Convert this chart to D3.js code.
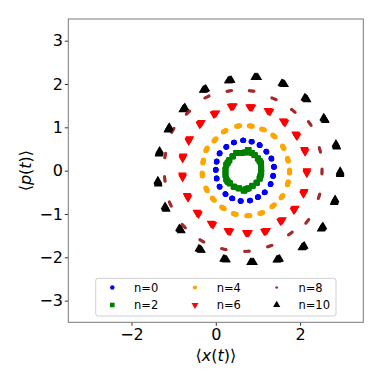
<!DOCTYPE html>
<html>
<head>
<meta charset="utf-8">
<script src="https://cdn.jsdelivr.net/npm/d3@7"></script>
<style>
  body { margin: 0; background: #fff; }
  svg text { font-family: "DejaVu Sans", sans-serif; fill: #000; }
</style>
</head>
<body>
<div id="area"></div>
<script>
// values, as [<x(t)>, <p(t)>]
let n0 = [[0.65,0.70],[0.85,0.67],[1.04,0.59],[1.20,0.44],[1.32,0.28],[1.38,0.09],[1.36,-0.12],
  [1.30,-0.31],[1.16,-0.50],[1.00,-0.61],[0.81,-0.69],[0.59,-0.70],[0.39,-0.64],[0.23,-0.54],
  [0.09,-0.37],[0.02,-0.18],[0.00,0.02],[0.02,0.21],[0.09,0.40],[0.25,0.55],[0.43,0.65]]
let n2 = [[0.77,0.48],[0.61,0.41],[0.49,0.41],[0.40,0.33],[0.32,0.24],[0.25,0.13],[0.23,0.02],
  [0.23,-0.10],[0.25,-0.20],[0.33,-0.29],[0.43,-0.37],[0.55,-0.41],[0.67,-0.46],[0.77,-0.41],
  [0.87,-0.35],[0.97,-0.28],[1.04,-0.18],[1.08,-0.06],[1.08,0.05],[1.07,0.17],[1.00,0.28],
  [0.92,0.36],[0.85,0.41],[0.70,0.42],[0.28,0.18],[0.28,-0.25],[0.72,-0.43],[1.06,-0.12],[1.04,0.22]]
let n4 = [[0.53,1.03],[0.83,1.03],[1.12,0.95],[1.38,0.80],[1.60,0.54],[1.71,0.25],[1.75,-0.02],
  [1.71,-0.29],[1.57,-0.60],[1.36,-0.81],[1.08,-0.98],[0.77,-1.04],[0.45,-1.00],[0.17,-0.86],
  [-0.06,-0.66],[-0.22,-0.43],[-0.32,-0.09],[-0.30,0.21],[-0.22,0.49],[-0.02,0.71],[0.21,0.91]]
let n6 = [[0.39,1.49],[0.83,1.47],[1.26,1.38],[1.62,1.13],[1.91,0.82],[2.11,0.46],[2.16,-0.03],
  [2.09,-0.51],[1.87,-0.89],[1.56,-1.15],[1.18,-1.39],[0.75,-1.43],[0.31,-1.39],[-0.09,-1.23],
  [-0.43,-0.98],[-0.67,-0.60],[-0.79,-0.13],[-0.78,0.31],[-0.63,0.71],[-0.36,1.09],[-0.02,1.32]]
let n8 = [[0.32,1.84],[0.85,1.84],[1.38,1.66],[1.84,1.38],[2.23,1.09],[2.47,0.48],[2.52,-0.02],
  [2.45,-0.59],[2.17,-1.17],[1.77,-1.45],[1.28,-1.74],[0.74,-1.86],[0.19,-1.81],[-0.33,-1.62],
  [-0.76,-1.28],[-1.08,-0.77],[-1.21,-0.19],[-1.20,0.35],[-1.02,0.93],[-0.66,1.34],[-0.21,1.70]]
let n10 = [[0.33,2.08],[0.96,2.15],[1.60,2.00],[2.14,1.66],[2.58,1.19],[2.86,0.58],[2.95,-0.05],
  [2.82,-0.70],[2.52,-1.32],[2.07,-1.76],[1.48,-2.05],[0.86,-2.12],[0.22,-2.05],[-0.37,-1.82],
  [-0.84,-1.36],[-1.19,-0.86],[-1.37,-0.27],[-1.34,0.42],[-1.12,0.97],[-0.76,1.43],[-0.27,1.87]]

let labels = ['n=0', 'n=2', 'n=4', 'n=6', 'n=8', 'n=10']
let colors = ['#0000ff', '#008000', '#ffa500', '#ff0000', '#a52a2a', '#000000']
let xTicks = [-2, 0, 2]
let yTicks = [-3, -2, -1, 0, 1, 2, 3]

let width = 382
let height = 382
let margin = {left: 68.3, right: 18.7, top: 19, bottom: 59.7}

let series = [
  {data: n0, sym: d3.symbolCircle, size: 22, rot: 0, smear: 0.4},
  {data: n2, sym: d3.symbolSquare, size: 30, rot: 0, smear: 0.6},
  {data: n4, sym: d3.symbolCircle, size: 20, rot: 0, smear: 1.5},
  {data: n6, sym: d3.symbolTriangle, size: 30, rot: 180, smear: 1.4},
  {data: n8, sym: d3.symbolCircle, size: 8, rot: 0, smear: 2.3},
  {data: n10, sym: d3.symbolTriangle, size: 32, rot: 0, smear: 1.6}
]

let svg = d3.select('#area').append('svg')
  .attr('width', width).attr('height', height)

let x = d3.scaleLinear().domain([-3.5, 3.5]).range([margin.left, width - margin.right])
let y = d3.scaleLinear().domain([-3.5, 3.5]).range([height - margin.bottom, margin.top])

// Markers, stamped several times along their ring tangent for the smeared look
let plot = svg.append('g')
series.forEach(function(s, i) {
  let cx = d3.mean(s.data, d => x(d[0]))
  let cy = d3.mean(s.data, d => y(d[1]))
  let shape = d3.symbol().type(s.sym).size(s.size)
  let g = plot.append('g').attr('fill', colors[i])
  s.data.forEach(function(d) {
    let px = x(d[0]), py = y(d[1])
    let a = Math.atan2(py - cy, px - cx)
    let tx = -Math.sin(a), ty = Math.cos(a)
    ;[-1, -0.5, 0, 0.5, 1].forEach(function(k) {
      g.append('path')
        .attr('d', shape)
        .attr('transform', 'translate(' + (px + k * tx * s.smear) + ',' + (py + k * ty * s.smear) + ') rotate(' + s.rot + ')')
    })
  })
})

// Axes
let xAxis = svg.append('g')
  .attr('transform', 'translate(0,' + (height - margin.bottom) + ')')
  .call(d3.axisBottom(x).tickValues(xTicks).tickSize(3.5).tickPadding(2.8)
    .tickFormat(d => d < 0 ? '\u2212' + Math.abs(d) : d))
let yAxis = svg.append('g')
  .attr('transform', 'translate(' + margin.left + ',0)')
  .call(d3.axisLeft(y).tickValues(yTicks).tickSize(3.5).tickPadding(1.8)
    .tickFormat(d => d < 0 ? '\u2212' + Math.abs(d) : d))
;[xAxis, yAxis].forEach(function(a) {
  a.select('.domain').remove()
  a.selectAll('.tick line').attr('stroke', '#000').attr('stroke-width', 0.8)
  a.selectAll('.tick text').attr('font-size', 16).attr('fill', '#000')
    .style('font-family', '"DejaVu Sans", sans-serif')
})

svg.append('rect')
  .attr('x', margin.left).attr('y', margin.top)
  .attr('width', width - margin.left - margin.right)
  .attr('height', height - margin.top - margin.bottom)
  .attr('fill', 'none').attr('stroke', '#7a7a7a').attr('stroke-width', 1)

// Axis labels
function mathLabel(sel, v) {
  sel.append('tspan').text('\u27E8')
  sel.append('tspan').attr('font-style', 'italic').text(v)
  sel.append('tspan').text('(')
  sel.append('tspan').attr('font-style', 'italic').text('t')
  sel.append('tspan').text(')\u27E9')
}
let xl = svg.append('text')
  .attr('x', x(0)).attr('y', 361)
  .attr('text-anchor', 'middle').attr('font-size', 16)
mathLabel(xl, 'x')
let yl = svg.append('text')
  .attr('transform', 'translate(31,' + y(0) + ') rotate(-90)')
  .attr('text-anchor', 'middle').attr('font-size', 16)
mathLabel(yl, 'p')

// Legend
let legend = svg.append('g')
legend.append('rect')
  .attr('x', 95.7).attr('y', 278.3).attr('width', 240.3).attr('height', 37.7)
  .attr('rx', 2.5).attr('fill', '#fff').attr('fill-opacity', 0.8)
  .attr('stroke', '#d0d0d0').attr('stroke-width', 1)
let colX = [112.3, 195, 276.7]
let rowY = [287.5, 305]
labels.forEach(function(lab, i) {
  let col = Math.floor(i / 2), row = i % 2
  let s = series[i]
  legend.append('path')
    .attr('d', d3.symbol().type(s.sym).size(s.size * 0.7))
    .attr('fill', colors[i])
    .attr('transform', 'translate(' + colX[col] + ',' + rowY[row] + ') rotate(' + s.rot + ')')
  legend.append('text')
    .attr('x', colX[col] + 21.7).attr('y', rowY[row] + 4.2)
    .attr('font-size', 11.5)
    .text(lab)
})
</script>
</body>
</html>
